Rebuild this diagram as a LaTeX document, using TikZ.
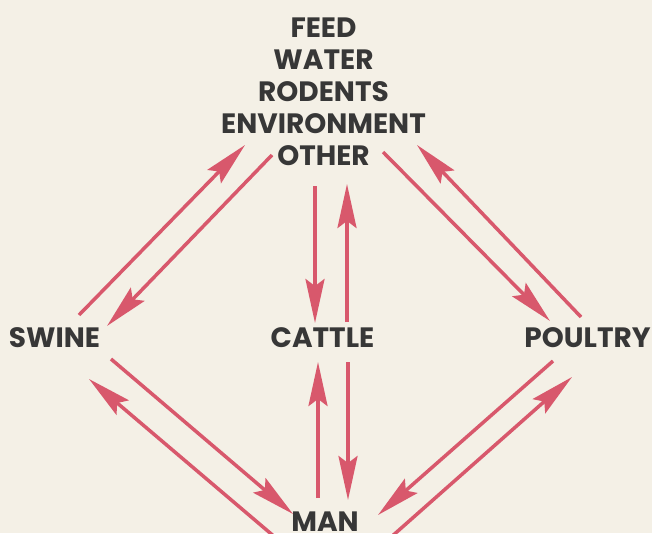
\documentclass[tikz,border=0pt]{standalone}
\usepackage{fontspec}
\setmainfont{Poppins}
\usetikzlibrary{arrows.meta}

\definecolor{paper}{RGB}{244,240,230}
\definecolor{ink}{RGB}{55,55,55}
\definecolor{rosso}{RGB}{216,88,108}

\begin{document}
\begin{tikzpicture}[x=1pt,y=-1pt,
  voce/.style={anchor=base,text=ink,inner sep=0pt,
    font=\bfseries\fontsize{28}{32}\selectfont},
  freccia/.style={draw=rosso,line width=3.5pt,
    -{Stealth[length=44pt,width=19pt,inset=7pt]}}]
  % foglio
  \fill[paper] (0,0) rectangle (652,533);
  \clip (0,0) rectangle (652,533);

  % fonti di contagio
  \node[voce] (feed)    at (323.5,37)  {FEED};
  \node[voce] (water)   at (323.5,69)  {WATER};
  \node[voce] (rodents) at (323.5,101) {RODENTS};
  \node[voce] (env)     at (323.5,133) {ENVIRONMENT};
  \node[voce] (other)   at (323.5,165) {OTHER};

  % animali e uomo
  \node[voce] (swine)   at (54.5,347.5)  {SWINE};
  \node[voce] (cattle)  at (322.5,347.5) {CATTLE};
  \node[voce] (poultry) at (587.5,347.5) {POULTRY};
  \node[voce] (man)     at (325,531)     {MAN};

  % estremi delle frecce
  \coordinate (sw1) at (79,315);   \coordinate (ot1) at (245,145);
  \coordinate (ot2) at (272,155);  \coordinate (sw2) at (107,326);
  \coordinate (ot3) at (383,152);  \coordinate (po1) at (550,321);
  \coordinate (po2) at (581,317);  \coordinate (ot4) at (417,145);
  \coordinate (ot5) at (315,186);  \coordinate (ca1) at (315,323);
  \coordinate (ca2) at (347,322);  \coordinate (ot6) at (347,184);
  \coordinate (ma1) at (318,498);  \coordinate (ca3) at (318,362);
  \coordinate (ca4) at (348,362);  \coordinate (ma2) at (348,500);
  \coordinate (sw3) at (111,359);  \coordinate (ma3) at (293,514);
  \coordinate (ma4) at (276,538);  \coordinate (sw4) at (89,379);
  \coordinate (po3) at (553,361);  \coordinate (ma5) at (378,515);
  \coordinate (ma6) at (390,538);  \coordinate (po4) at (572,377);

  % frecce in alto
  \draw[freccia] (sw1) -- (ot1);
  \draw[freccia] (ot2) -- (sw2);
  \draw[freccia] (ot3) -- (po1);
  \draw[freccia] (po2) -- (ot4);
  \draw[freccia] (ot5) -- (ca1);
  \draw[freccia] (ca2) -- (ot6);

  % frecce in basso
  \draw[freccia] (ma1) -- (ca3);
  \draw[freccia] (ca4) -- (ma2);
  \draw[freccia] (sw3) -- (ma3);
  \draw[freccia] (ma4) -- (sw4);
  \draw[freccia] (po3) -- (ma5);
  \draw[freccia] (ma6) -- (po4);
\end{tikzpicture}
\end{document}
